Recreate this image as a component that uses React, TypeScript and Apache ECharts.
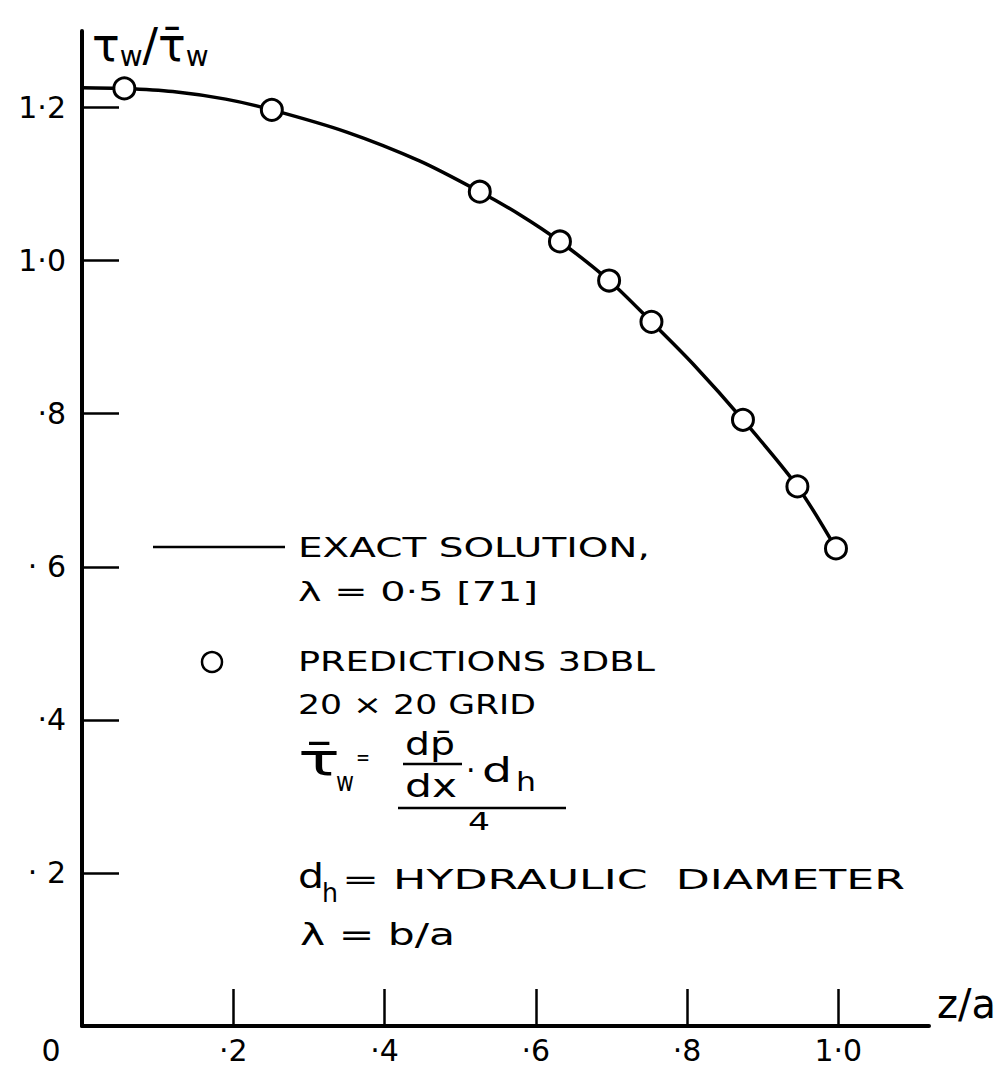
import React, { useEffect, useRef } from 'react';
import * as echarts from 'echarts';

// Exact solution curve (lambda = 0.5)
const exactX = [0, 0.056, 0.12, 0.19, 0.251, 0.35, 0.447, 0.526, 0.579, 0.632, 0.697, 0.753, 0.808, 0.874, 0.946, 0.997];
const exactY = [1.226, 1.225, 1.221, 1.211, 1.197, 1.168, 1.13, 1.09, 1.06, 1.025, 0.974, 0.92, 0.865, 0.792, 0.705, 0.624];
// Predictions 3DBL 20x20 grid
const predX = [0.056, 0.251, 0.526, 0.632, 0.697, 0.753, 0.874, 0.946, 0.997];
const predY = [1.225, 1.197, 1.09, 1.025, 0.974, 0.92, 0.792, 0.705, 0.624];

const xTickValues = [0.2, 0.4, 0.6, 0.8, 1.0];
const xLabelValues = [0, 0.2, 0.4, 0.6, 0.8, 1.0];
const xLabelTexts = ['0', '·2', '·4', '·6', '·8', '1·0'];
const yTickValues = [0.2, 0.4, 0.6, 0.8, 1.0, 1.2];
const yLabelTexts = ['· 2', '·4', '· 6', '·8', '1·0', '1·2'];

const FONT = 'DejaVu Sans';

function measure(text: string, size: number): number {
  const c = document.createElement('canvas').getContext('2d');
  if (!c) return text.length * size * 0.6;
  c.font = `${size}px "${FONT}"`;
  return c.measureText(text).width;
}

function fitText(text: string, x: number, y: number, size: number, targetW?: number) {
  const w = measure(text, size);
  const sx = targetW ? targetW / w : 1;
  return {
    type: 'text',
    x,
    y,
    scaleX: sx,
    z: 10,
    style: {
      text,
      fontSize: size,
      fontFamily: FONT,
      fill: '#000',
      align: 'left',
      verticalAlign: 'middle',
    },
  };
}

export default function App() {
  const ref = useRef<HTMLDivElement>(null);
  useEffect(() => {
    if (!ref.current) return;
    const chart = echarts.init(ref.current, undefined, { renderer: 'svg' });
    const key = (v: number) => Math.round(v * 10);
    const xLabelMap: Record<number, string> = {};
    xLabelValues.forEach((v, i) => (xLabelMap[key(v)] = xLabelTexts[i]));
    const yLabelMap: Record<number, string> = {};
    yTickValues.forEach((v, i) => (yLabelMap[key(v)] = yLabelTexts[i]));

    const graphic: any[] = [
      { type: 'line', shape: { x1: 153, y1: 547, x2: 285, y2: 547 }, style: { stroke: '#000', lineWidth: 2.5 } },
      fitText('EXACT SOLUTION,', 298, 548, 27, 352),
      fitText('λ = 0·5 [71]', 298, 591, 27, 240),
      { type: 'circle', shape: { cx: 212, cy: 662, r: 10 }, style: { fill: 'none', stroke: '#000', lineWidth: 2.5 } },
      fitText('PREDICTIONS 3DBL', 298, 662, 27, 357),
      fitText('20 × 20 GRID', 298, 704, 27, 238),
      // formula
      fitText('τ̄', 298, 760, 44, 42),
      fitText('w', 336, 782, 26, 18),
      fitText('=', 356, 758, 22, 14),
      fitText('dp̄', 405, 744, 32, 50),
      { type: 'line', shape: { x1: 403, y1: 764, x2: 462, y2: 764 }, style: { stroke: '#000', lineWidth: 2.5 } },
      fitText('dx', 405, 786, 32, 52),
      fitText('·', 466, 770, 30),
      fitText('d', 482, 770, 34, 30),
      fitText('h', 516, 782, 26, 20),
      { type: 'line', shape: { x1: 398, y1: 808, x2: 566, y2: 808 }, style: { stroke: '#000', lineWidth: 2.5 } },
      fitText('4', 468, 822, 24, 22),
      // d_h = hydraulic diameter
      fitText('d', 298, 876, 34, 26),
      fitText('h', 322, 893, 26, 16),
      fitText('= HYDRAULIC  DIAMETER', 342, 880, 27, 563),
      fitText('λ = b/a', 300, 935, 30, 155),
    ];

    chart.setOption({
      animation: false,
      backgroundColor: '#fff',
      textStyle: { fontFamily: FONT, color: '#000' },
      grid: { left: 82, right: 76, top: 31, bottom: 48, containLabel: false },
      xAxis: {
        type: 'value',
        min: 0,
        max: 1.12,
        name: 'z/a',
        nameLocation: 'end',
        nameGap: 8,
        nameTextStyle: { fontSize: 40, fontFamily: FONT, color: '#000', verticalAlign: 'bottom', lineHeight: 40, padding: [0, 0, 2, 0] },
        axisLine: { show: true, onZero: false, lineStyle: { color: '#000', width: 4 } },
        axisTick: { show: true, inside: true, length: 37, customValues: xTickValues, lineStyle: { color: '#000', width: 2.5 } },
        axisLabel: {
          show: true,
          customValues: xLabelValues,
          margin: 9,
          fontSize: 30,
          fontFamily: FONT,
          color: '#000',
          formatter: (v: number) => (key(v) === 0 ? '{o|0}' : '{n|' + (xLabelMap[key(v)] ?? '') + '}'),
          rich: {
            o: { fontSize: 30, fontFamily: FONT, color: '#000', padding: [0, 62, 0, 0] },
            n: { fontSize: 30, fontFamily: FONT, color: '#000' },
          },
        },
        splitLine: { show: false },
      },
      yAxis: {
        type: 'value',
        min: 0,
        max: 1.3,
        name: '{a|τ}{b|w}{a|/}{a|τ̄}{b|w}',
        nameLocation: 'end',
        nameGap: -14,
        nameTextStyle: {
          align: 'left',
          verticalAlign: 'middle',
          padding: [0, 0, 0, 10],
          rich: {
            a: { fontSize: 46, fontFamily: FONT, color: '#000' },
            b: { fontSize: 28, fontFamily: FONT, color: '#000', padding: [22, 0, 0, 0] },
          },
        },
        axisLine: { show: true, onZero: false, lineStyle: { color: '#000', width: 4 } },
        axisTick: { show: true, inside: true, length: 37, customValues: yTickValues, lineStyle: { color: '#000', width: 2.5 } },
        axisLabel: {
          show: true,
          customValues: yTickValues,
          margin: 16,
          fontSize: 30,
          fontFamily: FONT,
          color: '#000',
          formatter: (v: number) => yLabelMap[key(v)] ?? '',
        },
        splitLine: { show: false },
      },
      series: [
        {
          name: 'EXACT SOLUTION, λ = 0·5 [71]',
          type: 'line',
          data: exactX.map((x, i) => [x, exactY[i]]),
          symbol: 'none',
          smooth: 0.3,
          lineStyle: { color: '#000', width: 3.5 },
          z: 2,
        },
        {
          name: 'PREDICTIONS 3DBL 20 × 20 GRID',
          type: 'scatter',
          data: predX.map((x, i) => [x, predY[i]]),
          symbol: 'circle',
          symbolSize: 21,
          itemStyle: { color: '#fff', borderColor: '#000', borderWidth: 3, opacity: 1 },
          z: 3,
        },
      ],
      graphic,
    });
    return () => chart.dispose();
  }, []);
  return (
    <div
      ref={ref}
      style={{ position: 'absolute', left: 0, top: 0, width: 1005, height: 1074, background: '#fff' }}
    />
  );
}
